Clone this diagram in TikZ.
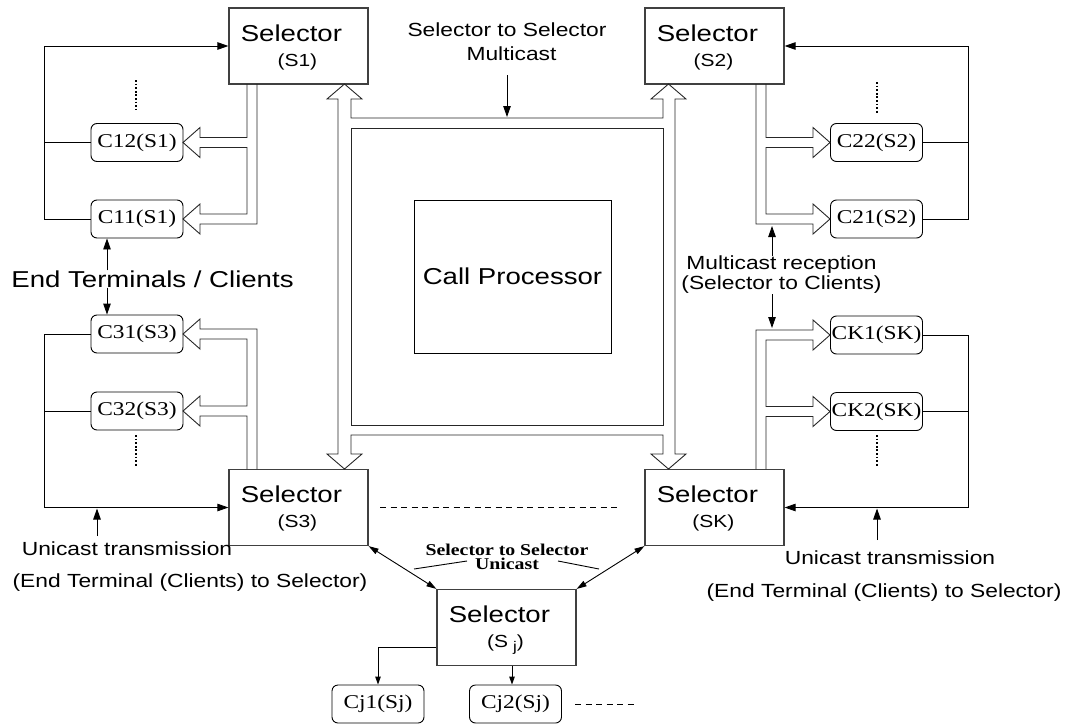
\documentclass[tikz,border=0pt]{standalone}
\usepackage{fontspec}
\setmainfont{Liberation Serif}[FakeStretch=1.2]
\newfontfamily\hsans{Liberation Sans}[FakeStretch=1.2]
\usetikzlibrary{arrows.meta,calc}

\tikzset{
  selbox/.style={draw=black!75, line width=1.2pt, minimum width=139pt, minimum height=76pt, inner sep=0pt},
  client/.style={draw, rounded corners=6pt, line width=0.9pt, minimum width=92pt, minimum height=38pt,
                 inner sep=0pt, font=\fontsize{19.5}{19.5}\selectfont},
  seltxt/.style={font=\hsans\fontsize{23}{23}\selectfont, anchor=base, inner sep=0pt},
  subtxt/.style={font=\hsans\fontsize{17.5}{17.5}\selectfont, anchor=base, inner sep=0pt},
  lbl/.style={font=\hsans\fontsize{19}{20}\selectfont, inner sep=0pt, align=center},
  thin/.style={line width=0.9pt},
  arr/.style={line width=0.9pt, -{Triangle[length=11pt,width=7.5pt]}},
  sarr/.style={line width=0.9pt, -{Triangle[length=8pt,width=5.5pt]}},
  darr/.style={line width=0.9pt, {Triangle[length=10pt,width=6pt]}-{Triangle[length=10pt,width=6pt]}},
  hollow/.style={line width=0.9pt, draw=black!85, line join=miter},
  dots/.style={line width=2.2pt, dash pattern=on 1.8pt off 1.8pt},
  dashes/.style={line width=1pt, dash pattern=on 6pt off 4.5pt},
}

\begin{document}
\begin{tikzpicture}[x=1pt,y=-1pt]
\useasboundingbox (0,0) rectangle (1067,725);

% ---------- selectors ----------
\node[selbox] (s1) at (298.5,46) {};
\node[selbox] (s2) at (714.5,46) {};
\node[selbox] (s3) at (298.5,507.5) {};
\node[selbox] (sk) at (714.5,507.5) {};
\node[selbox] (sj) at (506.5,627.5) {};

\node[seltxt] at ($(s1.north west)+(63,34)$) {Selector};
\node[subtxt] at ($(s1.north west)+(69,59)$) {(S1)};
\node[seltxt] at ($(s2.north west)+(63,34)$) {Selector};
\node[subtxt] at ($(s2.north west)+(69,59)$) {(S2)};
\node[seltxt] at ($(s3.north west)+(63,34)$) {Selector};
\node[subtxt] at ($(s3.north west)+(69,59)$) {(S3)};
\node[seltxt] at ($(sk.north west)+(63,34)$) {Selector};
\node[subtxt] at ($(sk.north west)+(69,59)$) {(SK)};
\node[seltxt] at ($(sj.north west)+(63,34)$) {Selector};
\node[subtxt] at ($(sj.north west)+(69,59)$) {(S\hspace{5pt}\raisebox{-4pt}{\fontsize{14}{14}\selectfont j})};

% ---------- call processor and the hollow multicast frame ----------
\node[draw, line width=0.9pt, minimum width=197pt, minimum height=153pt, inner sep=0pt,
      font=\hsans\fontsize{23}{23}\selectfont] (cp) at (512.5,276.5) {Call Processor};

\draw[hollow] (344.5,84) -- (362,99) -- (351,99) -- (351,118) -- (663,118) -- (663,99)
  -- (651,99) -- (668.5,84) -- (686,99) -- (675,99) -- (675,454) -- (686,454)
  -- (668.5,469) -- (651,454) -- (663,454) -- (663,435) -- (351,435) -- (351,454)
  -- (362,454) -- (344.5,469) -- (327,454) -- (338,454) -- (338,99) -- (327,99) -- cycle;
\draw[hollow] (351,128) rectangle (663,425);

% ---------- clients ----------
\node[client] (c12) at (137,142.5) {C12(S1)};
\node[client] (c11) at (137,219) {C11(S1)};
\node[client] (c31) at (137,334) {C31(S3)};
\node[client] (c32) at (137,411) {C32(S3)};
\node[client] (c22) at (876.5,142.5) {C22(S2)};
\node[client] (c21) at (876.5,219) {C21(S2)};
\node[client] (ck1) at (876.5,335) {CK1(SK)};
\node[client] (ck2) at (876.5,411.5) {CK2(SK)};
\node[client] (cj1) at (378,704) {Cj1(Sj)};
\node[client] (cj2) at (515.5,704) {Cj2(Sj)};

% ---------- hollow multicast arrows from selectors to clients ----------
\draw[hollow] (247,84) -- (247,137.5) -- (200,137.5) -- (200,127.5) -- (183,142.5) -- (200,157.5)
  -- (200,147.5) -- (247,147.5) -- (247,214) -- (200,214) -- (200,204) -- (183,219) -- (200,234)
  -- (200,224) -- (257,224) -- (257,84);
\draw[hollow] (247,469) -- (247,416) -- (200,416) -- (200,426) -- (183,411) -- (200,396)
  -- (200,406) -- (247,406) -- (247,339) -- (200,339) -- (200,349) -- (183,334) -- (200,319)
  -- (200,329) -- (257,329) -- (257,469);
\draw[hollow] (766,84) -- (766,137.5) -- (813,137.5) -- (813,127.5) -- (830,142.5) -- (813,157.5)
  -- (813,147.5) -- (766,147.5) -- (766,214) -- (813,214) -- (813,204) -- (830,219) -- (813,234)
  -- (813,224) -- (756,224) -- (756,84);
\draw[hollow] (766,469) -- (766,416.5) -- (813,416.5) -- (813,426.5) -- (830,411.5) -- (813,396.5)
  -- (813,406.5) -- (766,406.5) -- (766,340) -- (813,340) -- (813,350) -- (830,335) -- (813,320)
  -- (813,330) -- (756,330) -- (756,469);

% ---------- unicast return loops ----------
\coordinate (l1) at (44,0);
\coordinate (r1) at (968.5,0);
\draw[arr] (c11.west) -| (s1.west -| l1) -- (s1.west);
\draw[thin] (c12.west) -- (c12.west -| l1);
\draw[arr] (c31.west) -| (s3.west -| l1) -- (s3.west);
\draw[thin] (c32.west) -- (c32.west -| l1);
\draw[arr] (c21.east) -| (s2.east -| r1) -- (s2.east);
\draw[thin] (c22.east) -- (c22.east -| r1);
\draw[arr] (ck1.east) -| (sk.east -| r1) -- (sk.east);
\draw[thin] (ck2.east) -- (ck2.east -| r1);

% ---------- dotted continuations ----------
\draw[dots] (136,80) -- (136,110);
\draw[dots] (136,435) -- (136,467);
\draw[dots] (877,82) -- (877,113);
\draw[dots] (877,435) -- (877,467);

% ---------- dashed continuations ----------
\draw[dashes] (380,507) -- (618,507);
\draw[dashes] (575,704) -- (638,704);

% ---------- labels ----------
\node[lbl, font=\hsans\fontsize{19}{24}\selectfont] (ssm) at (507,42) {Selector to Selector\\\hspace*{9pt}Multicast};
\coordinate (ssmtail) at (507,75);
\coordinate (ssmtip) at (507,117);
\draw[arr] (ssmtail) -- (ssmtip);

\node[lbl, font=\hsans\fontsize{23}{23}\selectfont] (et) at (152.5,279) {End Terminals / Clients};
\coordinate (etx) at (107,0);
\draw[arr] (et.north -| etx) -- (c11.south -| etx);
\draw[arr] (et.south -| etx) -- (c31.north -| etx);

\node[lbl] (mr) at (781.5,275) {Multicast reception\\(Selector to Clients)};
\coordinate (mrtop) at (772,226);
\coordinate (mrbot) at (772,328);
\draw[arr] (mr.north -| mrtop) -- (mrtop);
\draw[arr] (mr.south -| mrbot) -- (mrbot);

\node[lbl] (ut1) at (127,549) {Unicast transmission};
\node[lbl] (et1) at (190,583) {(End Terminal (Clients) to Selector)};
\coordinate (ut1tail) at (97,536);
\coordinate (ut1tip) at (97,508.5);
\draw[arr] (ut1tail) -- (ut1tip);

\node[lbl] (ut2) at (890,558) {Unicast transmission};
\node[lbl] (et2) at (884,593) {(End Terminal (Clients) to Selector)};
\coordinate (ut2tail) at (877,540);
\coordinate (ut2tip) at (877,508.5);
\draw[arr] (ut2tail) -- (ut2tip);

% ---------- selector to selector unicast ----------
\draw[darr] (s3.south east) -- (sj.north west);
\draw[darr] (sk.south west) -- (sj.north east);
\node[font=\fontsize{16.5}{14.5}\selectfont\bfseries, align=center, inner sep=0pt] (ssu) at (507,557)
  {Selector to Selector\\Unicast};
\coordinate (ldA) at (414,569);
\coordinate (ldB) at (467,561);
\coordinate (ldC) at (558,561);
\coordinate (ldD) at (599,569);
\draw[thin] (ldA) -- (ldB);
\draw[thin] (ldC) -- (ldD);

% ---------- selector Sj to its clients ----------
\draw[sarr] ($(sj.south west)+(0,-19)$) -| (cj1.north);
\coordinate (cjx) at (512,0);
\draw[sarr] (sj.south -| cjx) -- (cj2.north -| cjx);
\end{tikzpicture}
\end{document}
